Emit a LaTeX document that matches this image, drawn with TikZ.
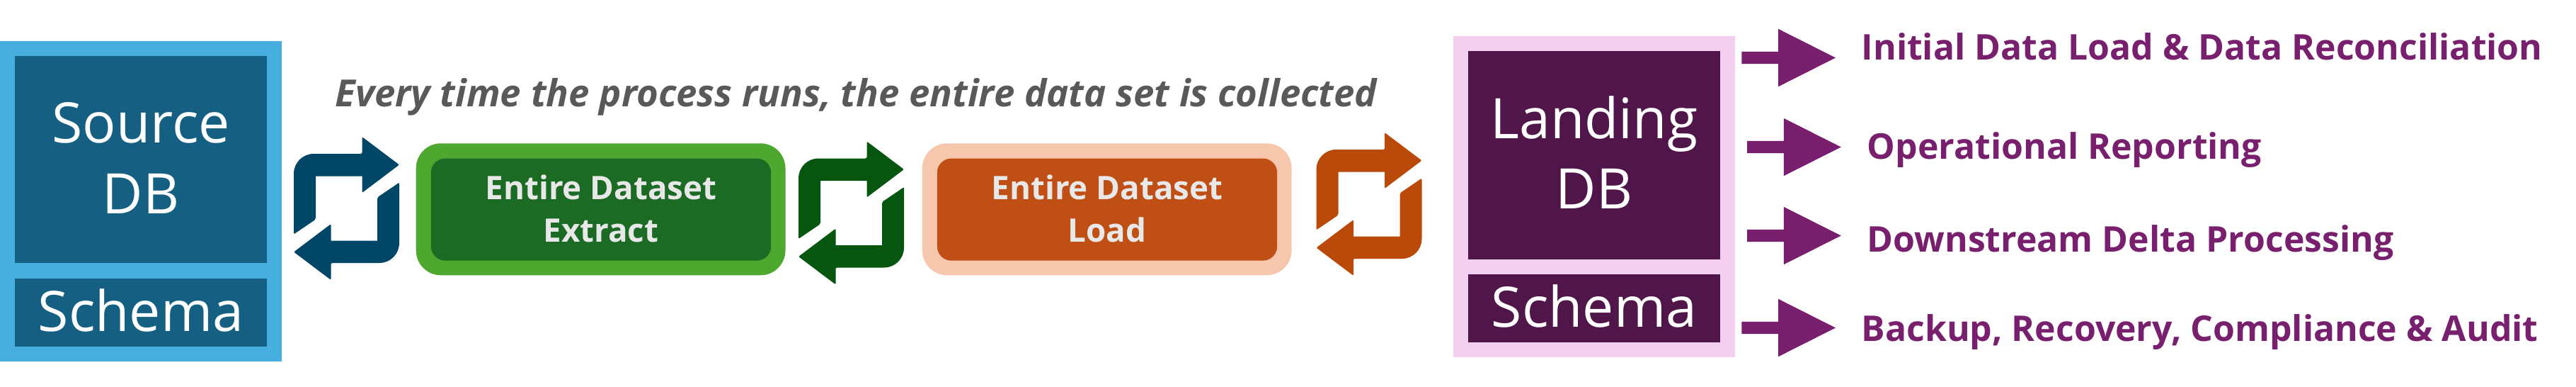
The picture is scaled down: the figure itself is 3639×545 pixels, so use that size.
\documentclass[tikz,border=0pt]{standalone}
\usepackage{fontspec}
\setmainfont{Open Sans}
\usepackage{xcolor}
\usetikzlibrary{positioning,shapes.arrows}
\definecolor{srcpale}{HTML}{47AEE0}
\definecolor{srcdark}{HTML}{156082}
\definecolor{srcsync}{HTML}{004667}
\definecolor{extpale}{HTML}{4EA72E}
\definecolor{extdark}{HTML}{1B6B24}
\definecolor{extsync}{HTML}{06560F}
\definecolor{loadpale}{HTML}{F6C6AD}
\definecolor{loaddark}{HTML}{C04F15}
\definecolor{loadsync}{HTML}{BA4A09}
\definecolor{landpale}{HTML}{F2CEEF}
\definecolor{landdark}{HTML}{501549}
\definecolor{usecol}{HTML}{78206E}
\definecolor{captcol}{HTML}{595959}
\definecolor{stepcol}{HTML}{E8E8E8}
\tikzset{
	dbbox/.style={inner sep=0pt,align=center,text=white,minimum width=3.56cm,font=\fontsize{22.4}{28.2}\selectfont},
	stepbox/.style={rounded corners=0.2cm,inner sep=0pt,align=center,text=stepcol,text depth=0.03cm,minimum width=4.8cm,minimum height=1.44cm,font=\bfseries\fontsize{13}{17}\selectfont},
	paleback/.style={rounded corners=0.35cm},
	usearrow/.style={single arrow,anchor=tip,fill=usecol,inner sep=0.08cm,minimum height=1.325cm,minimum width=0.8cm,single arrow head extend=0.32cm,single arrow tip angle=53.4,shape border uses incircle=false},
	uselabel/.style={anchor=base west,inner sep=0pt,text=usecol,font=\bfseries\fontsize{14.2}{17}\selectfont},
	syncicon/.pic={
		\foreach \rot in {0,180}
			\fill[pic actions,rotate=\rot,rounded corners=0.02cm] (74.5,-61.5) -- (22,-101) -- (22,-77) [rounded corners=0.28cm] -- (-74.5,-77) [rounded corners=0.02cm] -- (-74.5,36.5) -- (-43.5,15.5) [sharp corners] -- (-43.5,-45.5) -- (22,-45.5) [rounded corners=0.02cm] -- (22,-22) -- cycle;
	}
}
\begin{document}
\begin{tikzpicture}[x=0.01cm,y=-0.01cm]
	\useasboundingbox (0,0) rectangle (3639,545);
	\fill[srcpale] (0,57.5) rectangle (398,510);
	\node[dbbox,fill=srcdark,text depth=0.04cm,minimum height=2.925cm] (sourcedb) at (199,225) {Source\\DB};
	\node[dbbox,fill=srcdark,text depth=0.07cm,minimum height=0.965cm] (sourceschema) at (199,441) {Schema};
	\pic[fill=srcsync] at (489.5,294) {syncicon};
	\fill[extpale,paleback] (587.7,202.3) rectangle (1109.5,388.3);
	\node[stepbox,fill=extdark] (extract) at (849,295.6) {Entire Dataset\\Extract};
	\pic[fill=extsync] at (1202.5,300.5) {syncicon};
	\fill[loadpale,paleback] (1302.8,202.3) rectangle (1824.6,388.3);
	\node[stepbox,fill=loaddark] (load) at (1564,295.6) {Entire Dataset\\Load};
	\pic[fill=loadsync] at (1934,288) {syncicon};
	\node[anchor=base west,inner sep=0pt,text=captcol,font=\bfseries\itshape\fontsize{15}{17}\selectfont] (caption) at (473,150) {Every time the process runs, the entire data set is collected};
	\fill[landpale] (2052.6,51.4) rectangle (2451,504.4);
	\node[dbbox,fill=landdark,text depth=0.08cm,minimum height=2.94cm] (landingdb) at (2252,219.3) {Landing\\DB};
	\node[dbbox,fill=landdark,text depth=0.07cm,minimum height=0.963cm] (landingschema) at (2252,435.3) {Schema};
	\node[usearrow] (use1) at (2594.6,81.5) {};
	\node[usearrow] (use2) at (2602.3,207.5) {};
	\node[usearrow] (use3) at (2602.3,332.5) {};
	\node[usearrow] (use4) at (2594.6,462.5) {};
	\node[uselabel] (initial) at (2629,84.5) {Initial Data Load \& Data Reconciliation};
	\node[uselabel] (report) at (2637,224) {Operational Reporting};
	\node[uselabel] (delta) at (2637,355) {Downstream Delta Processing};
	\node[uselabel] (audit) at (2629,481.4) {Backup, Recovery, Compliance \& Audit};
\end{tikzpicture}
\end{document}
